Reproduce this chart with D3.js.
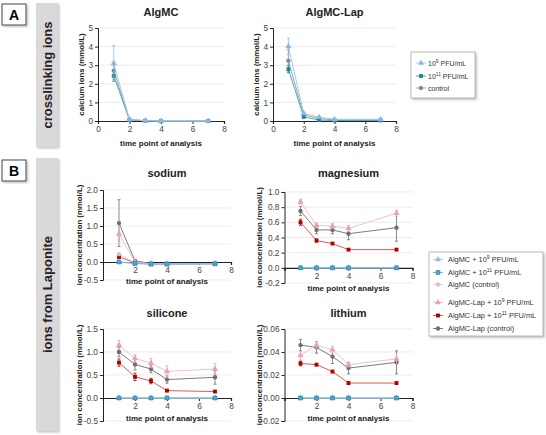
<!DOCTYPE html>
<html>
<head>
<meta charset="utf-8">
<script src="https://cdn.jsdelivr.net/npm/d3@7"></script>
<style>
  body { margin: 0; background: #fff; }
  svg { font-family: "Liberation Sans", Arial, sans-serif; display: block; }
</style>
</head>
<body>
<div id="chart"></div>
<script>
// time points (days)
var days = [1, 2, 3, 4, 7];
var xTicks = [0, 2, 4, 6, 8];

// A - calcium ions, AlgMC
var caAlg9 = [3.1, 0.08, 0.02, 0.0, 0.0];
var caAlg9Err = [0.95, 0.03, 0.01, 0.01, 0.01];
var caAlg11 = [2.43, 0.05, 0.01, -0.01, 0.0];
var caAlg11Err = [0.3, 0.02, 0.01, 0.01, 0.01];
var caAlgCtrl = [2.7, 0.08, 0.02, 0.0, 0.0];
var caAlgCtrlErr = [0.45, 0.03, 0.01, 0.01, 0.01];
// A - calcium ions, AlgMC-Lap
var caLap9 = [4.01, 0.41, 0.2, 0.09, 0.09];
var caLap9Err = [0.45, 0.05, 0.03, 0.02, 0.02];
var caLap11 = [2.79, 0.22, 0.05, 0.03, 0.03];
var caLap11Err = [0.2, 0.03, 0.01, 0.01, 0.01];
var caLapCtrl = [3.24, 0.32, 0.14, 0.06, 0.06];
var caLapCtrlErr = [0.6, 0.04, 0.03, 0.02, 0.02];

// B - sodium
var naAlg9 = [0.0, -0.04, -0.06, -0.06, -0.04];
var naAlg11 = [0.0, -0.04, -0.06, -0.06, -0.05];
var naAlgCtrl = [0.22, -0.02, -0.05, -0.05, -0.04];
var naLap9 = [0.78, 0.0, -0.05, -0.05, -0.05];
var naLap9Err = [0.2, 0.02, 0.01, 0.01, 0.01];
var naLap11 = [0.14, -0.02, -0.05, -0.05, -0.05];
var naLap11Err = [0.04, 0.01, 0.01, 0.01, 0.01];
var naLapCtrl = [1.08, 0.03, -0.04, -0.05, -0.04];
var naLapCtrlErr = [0.65, 0.03, 0.01, 0.01, 0.01];
// B - magnesium
var mgLap9 = [0.87, 0.56, 0.55, 0.52, 0.72];
var mgLap9Err = [0.03, 0.03, 0.03, 0.04, 0.04];
var mgLap11 = [0.60, 0.36, 0.32, 0.24, 0.24];
var mgLap11Err = [0.04, 0.02, 0.01, 0.01, 0.01];
var mgLapCtrl = [0.75, 0.50, 0.50, 0.45, 0.53];
var mgLapCtrlErr = [0.06, 0.05, 0.05, 0.08, 0.18];
// B - silicone
var siLap9 = [1.15, 0.86, 0.76, 0.58, 0.63];
var siLap9Err = [0.1, 0.08, 0.1, 0.12, 0.12];
var siLap11 = [0.77, 0.46, 0.37, 0.16, 0.14];
var siLap11Err = [0.08, 0.08, 0.06, 0.02, 0.02];
var siLapCtrl = [1.0, 0.73, 0.63, 0.40, 0.45];
var siLapCtrlErr = [0.1, 0.12, 0.08, 0.08, 0.15];
// B - lithium
var liLap9 = [0.037, 0.046, 0.042, 0.029, 0.034];
var liLap9Err = [0.004, 0.003, 0.003, 0.002, 0.005];
var liLap11 = [0.030, 0.029, 0.023, 0.013, 0.013];
var liLap11Err = [0.002, 0.001, 0.001, 0.001, 0.001];
var liLapCtrl = [0.046, 0.044, 0.036, 0.026, 0.031];
var liLapCtrlErr = [0.005, 0.005, 0.006, 0.005, 0.01];
// AlgMC without Laponite releases none of these ions
var zeros = [0, 0, 0, 0, 0];

// series styles
var sty = {
  alg9:    {sym: d3.symbolTriangle, fill: "#93b7e3", line: "#b4cdee"},
  alg11:   {sym: d3.symbolSquare,   fill: "#4fa6cf", line: "#7ab8d8", stroke: "#2a86b0"},
  algCtrl: {sym: d3.symbolCircle,   fill: "#c9c9c9", line: "#d6d6d6"},
  lap9:    {sym: d3.symbolTriangle, fill: "#e9a4ab", line: "#f1c3c7"},
  lap11:   {sym: d3.symbolSquare,   fill: "#b00000", line: "#dc5a5a"},
  lapCtrl: {sym: d3.symbolCircle,   fill: "#6f6f6f", line: "#7c7c7c"}
};
var styA = {
  p9:   {sym: d3.symbolTriangle, fill: "#8fb5e4", line: "#a9c7ec"},
  p11:  {sym: d3.symbolSquare,   fill: "#17889b", line: "#4aa7bd"},
  ctrl: {sym: d3.symbolCircle,   fill: "#8c8c8c", line: "#a3a3a3"}
};

var svg = d3.select("#chart").append("svg")
  .attr("width", 546).attr("height", 435);
svg.append("rect").attr("width", 546).attr("height", 435).attr("fill", "#fff");

var defs = svg.append("defs");
var f = defs.append("filter").attr("id", "shadow").attr("x", "-20%").attr("y", "-5%").attr("width", "150%").attr("height", "115%");
f.append("feDropShadow").attr("dx", 1.5).attr("dy", 1.5).attr("stdDeviation", 1).attr("flood-color", "#999").attr("flood-opacity", 0.6);

// section letters and grey side bands
function section(letter, top, bandTop, bandBottom, label) {
  svg.append("rect").attr("x", 2).attr("y", top).attr("width", 24).attr("height", 21)
    .attr("fill", "#fff").attr("stroke", "#444").attr("stroke-width", 1).attr("filter", "url(#shadow)");
  svg.append("text").attr("x", 14).attr("y", top + 15.5).attr("text-anchor", "middle")
    .attr("font-size", 14).attr("font-weight", "bold").text(letter);
  svg.append("rect").attr("x", 36).attr("y", bandTop).attr("width", 22).attr("height", bandBottom - bandTop)
    .attr("fill", "#d9d9d9").attr("filter", "url(#shadow)");
  var cy = (bandTop + bandBottom) / 2;
  svg.append("text").attr("transform", "translate(52," + cy + ") rotate(-90)")
    .attr("text-anchor", "middle").attr("font-size", 13).attr("font-weight", "bold")
    .attr("fill", "#222").text(label);
}
section("A", 4, 3, 147, "crosslinking ions");
section("B", 160, 158, 431, "ions from Laponite");

function drawPlot(cfg) {
  var g = svg.append("g");
  var x = d3.scaleLinear().domain([0, 8]).range([cfg.left, cfg.right]);
  var y = d3.scaleLinear().domain(cfg.yDomain).range([cfg.bottom, cfg.top]);

  // gridlines
  g.selectAll(".grid").data(cfg.yTicks.filter(function(t) { return t !== 0; }))
    .enter().append("line")
    .attr("x1", cfg.left).attr("x2", cfg.right)
    .attr("y1", function(d) { return y(d); }).attr("y2", function(d) { return y(d); })
    .attr("stroke", "#e4e4e4").attr("stroke-width", 0.7);

  // y axis
  var ya = g.append("g").attr("transform", "translate(" + cfg.left + ",0)")
    .call(d3.axisLeft(y).tickValues(cfg.yTicks).tickFormat(cfg.yFmt).tickSize(3).tickPadding(2));
  ya.select(".domain").attr("stroke", "#222");
  ya.selectAll(".tick line").attr("stroke", "#222");
  ya.selectAll("text").attr("font-size", 8.3).attr("fill", "#444").attr("font-family", "Liberation Sans, Arial, sans-serif");

  // x axis at y = 0
  var xa = g.append("g").attr("transform", "translate(0," + y(0) + ")")
    .call(d3.axisBottom(x).tickValues(xTicks).tickFormat(function(d) { return (d === 0 && !cfg.showZero) ? "" : d; }).tickSize(3).tickPadding(2));
  xa.select(".domain").attr("stroke", "#222").attr("stroke-width", 1.2);
  xa.selectAll(".tick line").attr("stroke", "#222");
  xa.selectAll("text").attr("font-size", 8.3).attr("fill", "#444").attr("font-family", "Liberation Sans, Arial, sans-serif");

  // labels
  var cx = (cfg.left + cfg.right) / 2;
  g.append("text").attr("x", cx).attr("y", cfg.titleY).attr("text-anchor", "middle")
    .attr("font-size", 11).attr("font-weight", "bold").attr("fill", "#222").text(cfg.title);
  g.append("text").attr("x", cx).attr("y", cfg.xLabelY).attr("text-anchor", "middle")
    .attr("font-size", 8).attr("font-weight", "bold").attr("fill", "#222").text("time point of analysis");
  g.append("text").attr("transform", "translate(" + (cfg.left - cfg.yLabelOff) + "," + ((cfg.top + cfg.bottom) / 2) + ") rotate(-90)")
    .attr("text-anchor", "middle").attr("font-size", 7.8).attr("font-weight", "bold").attr("fill", "#222").text(cfg.yLabel);

  // series
  cfg.series.forEach(function(s) {
    var pts = days.map(function(d, i) { return {x: d, y: s.values[i], e: s.err ? s.err[i] : 0}; });
    g.append("path").datum(pts)
      .attr("d", d3.line().x(function(d) { return x(d.x); }).y(function(d) { return y(d.y); }))
      .attr("fill", "none").attr("stroke", s.style.line).attr("stroke-width", 1);
    var eb = g.selectAll(null).data(pts.filter(function(p) { return p.e > 0; })).enter().append("g");
    eb.append("line").attr("x1", function(d) { return x(d.x); }).attr("x2", function(d) { return x(d.x); })
      .attr("y1", function(d) { return y(d.y - d.e); }).attr("y2", function(d) { return y(d.y + d.e); })
      .attr("stroke", s.style.fill).attr("stroke-width", 0.8);
    [-1, 1].forEach(function(sg) {
      eb.append("line").attr("x1", function(d) { return x(d.x) - 1.5; }).attr("x2", function(d) { return x(d.x) + 1.5; })
        .attr("y1", function(d) { return y(d.y + sg * d.e); }).attr("y2", function(d) { return y(d.y + sg * d.e); })
        .attr("stroke", s.style.fill).attr("stroke-width", 0.8);
    });
    g.selectAll(null).data(pts).enter().append("path")
      .attr("transform", function(d) { return "translate(" + x(d.x) + "," + y(d.y) + ")"; })
      .attr("d", d3.symbol().type(s.style.sym).size(s.style.sym === d3.symbolTriangle ? 17 : 15))
      .attr("fill", s.style.fill)
      .attr("stroke", s.style.stroke || "none").attr("stroke-width", 0.7);
  });
}

var fmt1 = function(d) { return d.toFixed(1); };
var fmt2 = function(d) { return d.toFixed(2); };

// panel A
drawPlot({title: "AlgMC", left: 98, right: 224, top: 28, bottom: 121, yDomain: [0, 5], yTicks: [0, 1, 2, 3, 4, 5],
  yFmt: d3.format("d"), showZero: true, titleY: 16, xLabelY: 146, yLabelOff: 14, yLabel: "calcium ions (mmol/L)",
  series: [
    {values: caAlgCtrl, err: caAlgCtrlErr, style: styA.ctrl},
    {values: caAlg11, err: caAlg11Err, style: styA.p11},
    {values: caAlg9, err: caAlg9Err, style: styA.p9}
  ]});
drawPlot({title: "AlgMC-Lap", left: 273, right: 396, top: 28, bottom: 121, yDomain: [0, 5], yTicks: [0, 1, 2, 3, 4, 5],
  yFmt: d3.format("d"), showZero: true, titleY: 16, xLabelY: 146, yLabelOff: 14, yLabel: "calcium ions (mmol/L)",
  series: [
    {values: caLapCtrl, err: caLapCtrlErr, style: styA.ctrl},
    {values: caLap11, err: caLap11Err, style: styA.p11},
    {values: caLap9, err: caLap9Err, style: styA.p9}
  ]});

// panel B
function bSeries(l9, l9e, l11, l11e, lc, lce, a9, a11, ac) {
  return [
    {values: lc, err: lce, style: sty.lapCtrl},
    {values: l9, err: l9e, style: sty.lap9},
    {values: l11, err: l11e, style: sty.lap11},
    {values: ac, style: sty.algCtrl},
    {values: a9, style: sty.alg9},
    {values: a11, style: sty.alg11}
  ];
}
drawPlot({title: "sodium", left: 103, right: 231, top: 190, bottom: 280, yDomain: [-0.5, 2], yTicks: [-0.5, 0, 0.5, 1, 1.5, 2],
  yFmt: fmt1, titleY: 177, xLabelY: 284, yLabelOff: 21, yLabel: "ion concentration (mmol/L)",
  series: bSeries(naLap9, naLap9Err, naLap11, naLap11Err, naLapCtrl, naLapCtrlErr, naAlg9, naAlg11, naAlgCtrl)});
drawPlot({title: "magnesium", left: 284.5, right: 412.5, top: 192, bottom: 283, yDomain: [-0.2, 1.0], yTicks: [-0.2, 0, 0.2, 0.4, 0.6, 0.8, 1.0],
  yFmt: fmt1, titleY: 177, xLabelY: 291, yLabelOff: 23, yLabel: "ion concentration (mmol/L)",
  series: bSeries(mgLap9, mgLap9Err, mgLap11, mgLap11Err, mgLapCtrl, mgLapCtrlErr, zeros, zeros, zeros)});
drawPlot({title: "silicone", left: 103, right: 231, top: 329, bottom: 421, yDomain: [-0.5, 1.5], yTicks: [-0.5, 0, 0.5, 1.0, 1.5],
  yFmt: fmt1, titleY: 317, xLabelY: 421, yLabelOff: 21, yLabel: "ion concentration (mmol/L)",
  series: bSeries(siLap9, siLap9Err, siLap11, siLap11Err, siLapCtrl, siLapCtrlErr, zeros, zeros, zeros)});
drawPlot({title: "lithium", left: 284.5, right: 412.5, top: 329, bottom: 421, yDomain: [-0.02, 0.06], yTicks: [-0.02, 0, 0.02, 0.04, 0.06],
  yFmt: fmt2, titleY: 317, xLabelY: 421, yLabelOff: 23, yLabel: "ion concentration (mmol/L)",
  series: bSeries(liLap9, liLap9Err, liLap11, liLap11Err, liLapCtrl, liLapCtrlErr, zeros, zeros, zeros)});

// legends
function legend(x0, y0, w, h, items, fontSize) {
  var g = svg.append("g");
  g.append("rect").attr("x", x0).attr("y", y0).attr("width", w).attr("height", h)
    .attr("fill", "#fff").attr("stroke", "#aaa").attr("stroke-width", 0.8).attr("filter", "url(#shadow)");
  items.forEach(function(it) {
    g.append("line").attr("x1", it.sx - 5).attr("x2", it.sx + 5).attr("y1", it.y).attr("y2", it.y)
      .attr("stroke", it.style.line).attr("stroke-width", 1);
    g.append("path").attr("transform", "translate(" + it.sx + "," + it.y + ")")
      .attr("d", d3.symbol().type(it.style.sym).size(15)).attr("fill", it.style.fill)
      .attr("stroke", it.style.stroke || "none").attr("stroke-width", 0.7);
    var t = g.append("text").attr("x", it.tx).attr("y", it.y + 2.6).attr("font-size", fontSize).attr("fill", "#333");
    t.append("tspan").text(it.name);
    if (it.sup) {
      t.append("tspan").attr("dy", -3).attr("font-size", fontSize * 0.7).text(it.sup);
      t.append("tspan").attr("dy", 3).text(" " + it.rest);
    } else if (it.rest) {
      t.append("tspan").text(it.rest);
    }
  });
}
legend(411, 52, 64, 46, [
  {y: 63, sx: 421, tx: 428, style: styA.p9, name: "10", sup: "9", rest: "PFU/mL"},
  {y: 76, sx: 421, tx: 428, style: styA.p11, name: "10", sup: "11", rest: "PFU/mL"},
  {y: 88, sx: 421, tx: 428, style: styA.ctrl, name: "control"}
], 7);
legend(429, 252, 114, 84, [
  {y: 259.5, sx: 438, tx: 448, style: sty.alg9, name: "AlgMC + 10", sup: "9", rest: "PFU/mL"},
  {y: 272.5, sx: 438, tx: 448, style: sty.alg11, name: "AlgMC + 10", sup: "11", rest: "PFU/mL"},
  {y: 284.5, sx: 438, tx: 448, style: sty.algCtrl, name: "AlgMC (control)"},
  {y: 302.5, sx: 438, tx: 448, style: sty.lap9, name: "AlgMC-Lap + 10", sup: "9", rest: "PFU/mL"},
  {y: 315.5, sx: 438, tx: 448, style: sty.lap11, name: "AlgMC-Lap + 10", sup: "11", rest: "PFU/mL"},
  {y: 328.5, sx: 438, tx: 448, style: sty.lapCtrl, name: "AlgMC-Lap (control)"}
], 7.4);
</script>
</body>
</html>
